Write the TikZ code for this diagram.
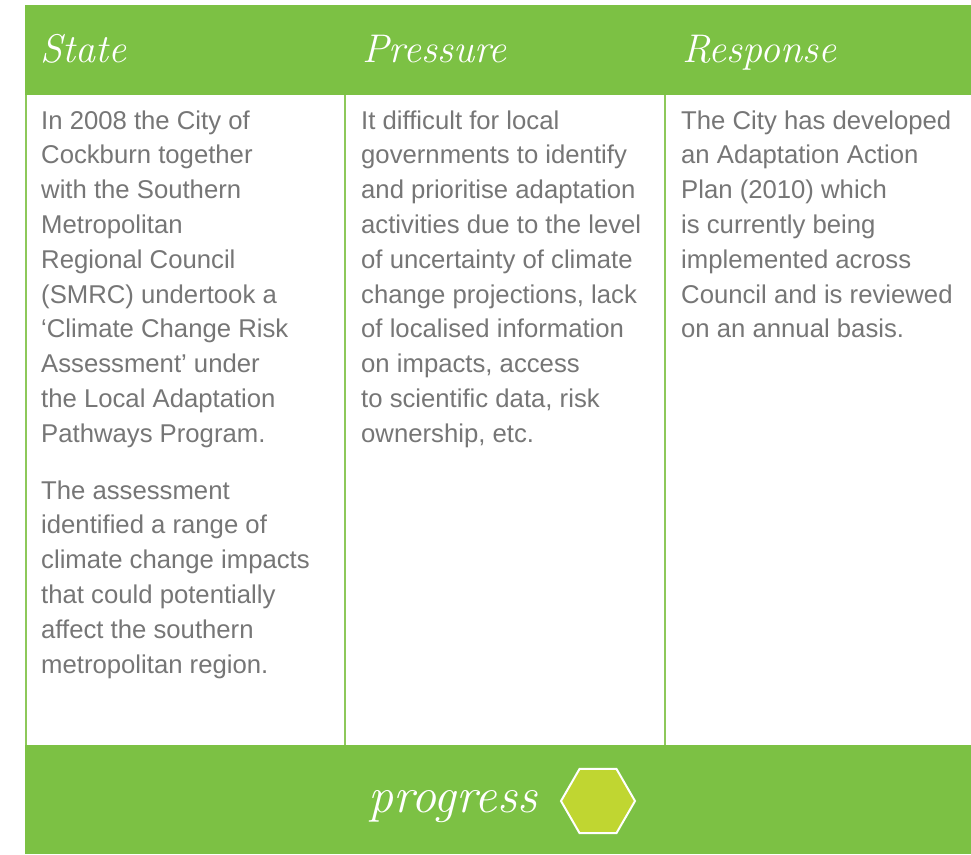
\documentclass[tikz,border=0pt]{standalone}
\usepackage{fontspec}
\usepackage{xcolor}
\usepackage{tikz}
\usetikzlibrary{positioning,shapes.geometric}
\newfontfamily\bodyfont{Liberation Sans}
\definecolor{leafgreen}{RGB}{124,193,68}
\definecolor{rulegreen}{RGB}{141,200,90}
\definecolor{hexlime}{RGB}{192,214,49}
\definecolor{textgrey}{RGB}{118,118,118}
\tikzstyle{title}   = [anchor=base west, inner sep=0pt, text=white, font=\fontsize{40}{40}\selectfont\itshape]
\tikzstyle{body}    = [anchor=base west, inner sep=0pt, align=left, text=textgrey, font=\bodyfont\fontsize{25.7}{34.8}\selectfont]
\tikzstyle{band}    = [fill=leafgreen, draw=none]
\tikzstyle{divider} = [draw=rulegreen, line width=2pt]
\tikzstyle{hex}     = [regular polygon, regular polygon sides=6, minimum size=74pt, inner sep=0pt, fill=hexlime, draw=white, line width=2pt]

\begin{document}
\begin{tikzpicture}[x=1pt,y=-1pt]
		\useasboundingbox (0,0) rectangle (971,854);
		\fill[white] (0,0) rectangle (971,854);

		% green bands
		\draw[band] (25,5) rectangle (971,95);
		\draw[band] (25,745) rectangle (971,854);

		% column rules
		\draw[divider] (26,95) -- (26,745);
		\draw[divider] (345,95) -- (345,745);
		\draw[divider] (665,95) -- (665,745);

		% headings
		\node[title] (state) at (40,62) {State};
		\node[title] (pressure) at (362,62) {Pressure};
		\node[title] (response) at (682,62) {Response};

		% column texts (placed at the baseline of their last line)
		\node[body] (stateA) at (41,442.2) {In 2008 the City of\\Cockburn together\\with the Southern\\Metropolitan\\Regional Council\\(SMRC) undertook a\\‘Climate Change Risk\\Assessment’ under\\the Local Adaptation\\Pathways Program.};
		\node[body] (stateB) at (41,673) {The assessment\\identified a range of\\climate change impacts\\that could potentially\\affect the southern\\metropolitan region.};
		\node[body] (pressureA) at (361,442.2) {It difficult for local\\governments to identify\\and prioritise adaptation\\activities due to the level\\of uncertainty of climate\\change projections, lack\\of localised information\\on impacts, access\\to scientific data, risk\\ownership, etc.};
		\node[body] (responseA) at (681,337.8) {The City has developed\\an Adaptation Action\\Plan (2010) which\\is currently being\\implemented across\\Council and is reviewed\\on an annual basis.};

		% footer
		\node[title, font=\fontsize{50}{50}\selectfont\itshape] (progress) at (368,812) {progress};
		\node[hex] (hexagon) at (598,801) {};
\end{tikzpicture}
\end{document}
